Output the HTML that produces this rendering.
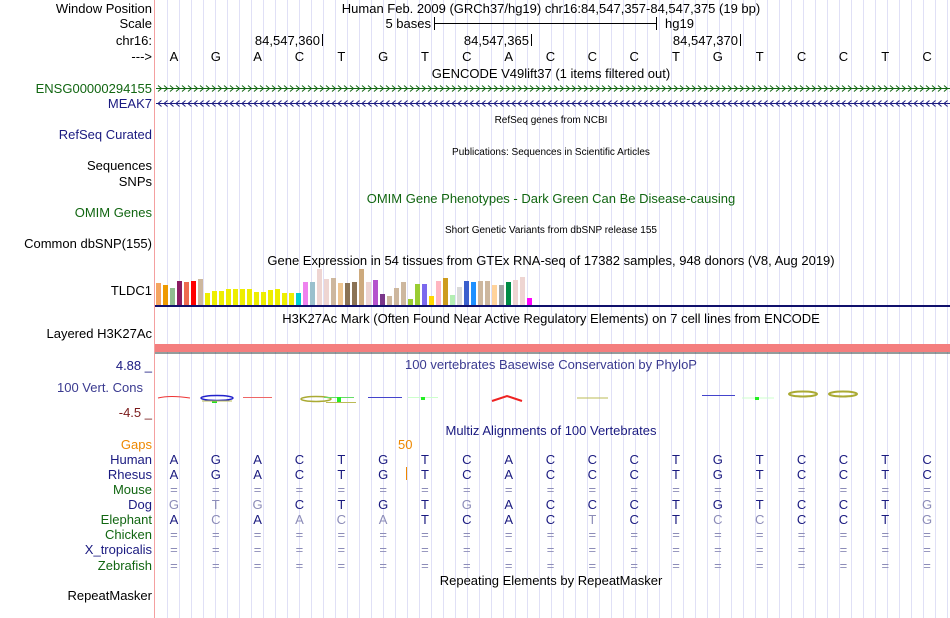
<!DOCTYPE html>
<html><head><meta charset="utf-8"><style>
html,body{margin:0;padding:0;background:#fff;width:950px;height:618px;overflow:hidden}
svg{display:block;font-family:"Liberation Sans",sans-serif}
</style></head><body>
<svg id="ucsc" width="950" height="618">
<g id="grid"></g>
<line x1="154.5" y1="0" x2="154.5" y2="618" stroke="#f4a0a0"/>
<g font-size="13" fill="#000" text-anchor="end">
<text x="152" y="13">Window Position</text>
<text x="152" y="28">Scale</text>
<text x="152" y="45">chr16:</text>
<text x="152" y="61">---&gt;</text>
<text x="152" y="93" fill="#116611">ENSG00000294155</text>
<text x="152" y="108" fill="#1a1a80">MEAK7</text>
<text x="152" y="139" fill="#1a1a80">RefSeq Curated</text>
<text x="152" y="170">Sequences</text>
<text x="152" y="186">SNPs</text>
<text x="152" y="217" fill="#116611">OMIM Genes</text>
<text x="152" y="248">Common dbSNP(155)</text>
<text x="152" y="295">TLDC1</text>
<text x="152" y="338">Layered H3K27Ac</text>
<text x="152" y="370" fill="#1a1a80">4.88 _</text>
<text x="100" y="392" text-anchor="middle" fill="#3a3a90">100 Vert. Cons</text>
<text x="152" y="417" fill="#7a1a1a">-4.5 _</text>
<text x="152" y="449" fill="#ee8800">Gaps</text>
<text x="152" y="464" fill="#1a1a80">Human</text>
<text x="152" y="479" fill="#1a1a80">Rhesus</text>
<text x="152" y="494" fill="#116611">Mouse</text>
<text x="152" y="509" fill="#1a1a80">Dog</text>
<text x="152" y="524" fill="#116611">Elephant</text>
<text x="152" y="539" fill="#116611">Chicken</text>
<text x="152" y="554" fill="#1a1a80">X_tropicalis</text>
<text x="152" y="570" fill="#116611">Zebrafish</text>
<text x="152" y="600">RepeatMasker</text>
</g>
<g font-size="13" text-anchor="middle">
<text x="551" y="13">Human Feb. 2009 (GRCh37/hg19)   chr16:84,547,357-84,547,375 (19 bp)</text>
<text x="551" y="78">GENCODE V49lift37 (1 items filtered out)</text>
<text x="551" y="123" font-size="10">RefSeq genes from NCBI</text>
<text x="551" y="155" font-size="10">Publications: Sequences in Scientific Articles</text>
<text x="551" y="203" fill="#116611">OMIM Gene Phenotypes - Dark Green Can Be Disease-causing</text>
<text x="551" y="233" font-size="10">Short Genetic Variants from dbSNP release 155</text>
<text x="551" y="265">Gene Expression in 54 tissues from GTEx RNA-seq of 17382 samples, 948 donors (V8, Aug 2019)</text>
<text x="551" y="323">H3K27Ac Mark (Often Found Near Active Regulatory Elements) on 7 cell lines from ENCODE</text>
<text x="551" y="369" fill="#3a3a90">100 vertebrates Basewise Conservation by PhyloP</text>
<text x="551" y="435" fill="#1a1a80">Multiz Alignments of 100 Vertebrates</text>
<text x="551" y="585">Repeating Elements by RepeatMasker</text>
</g>
<g font-size="13">
<text x="431" y="28" text-anchor="end">5 bases</text>
<line x1="434" y1="23.5" x2="656" y2="23.5" stroke="#000"/>
<line x1="434.5" y1="17" x2="434.5" y2="30" stroke="#000"/>
<line x1="656.5" y1="17" x2="656.5" y2="30" stroke="#000"/>
<text x="665" y="28">hg19</text>
</g>
<g font-size="13" text-anchor="end">
<text x="320" y="45">84,547,360</text><line x1="322.5" y1="34" x2="322.5" y2="46" stroke="#000"/>
<text x="529" y="45">84,547,365</text><line x1="531.5" y1="34" x2="531.5" y2="46" stroke="#000"/>
<text x="738" y="45">84,547,370</text><line x1="740.5" y1="34" x2="740.5" y2="46" stroke="#000"/>
</g>
<g id="bases" font-size="13" text-anchor="middle"></g>
<defs>
<pattern id="fw" width="6" height="8" patternUnits="userSpaceOnUse" x="157" y="84.5"><path d="M1 1 L4.5 4 L1 7" fill="none" stroke="#116611"/></pattern>
<pattern id="rv" width="6" height="8" patternUnits="userSpaceOnUse" x="157" y="99.5"><path d="M4.5 1 L1 4 L4.5 7" fill="none" stroke="#1a1a80"/></pattern>
</defs>
<g><line x1="156" y1="88.5" x2="950" y2="88.5" stroke="#116611"/><rect x="156" y="84" width="794" height="9" fill="url(#fw)"/></g>
<g><line x1="156" y1="103.5" x2="950" y2="103.5" stroke="#1a1a80"/><rect x="156" y="99" width="794" height="9" fill="url(#rv)"/></g>
<g id="gtex"></g>
<line x1="155" y1="306" x2="950" y2="306" stroke="#10106b" stroke-width="2"/>
<rect x="155" y="344" width="795" height="8" fill="#f47e7e"/>
<line x1="155" y1="353" x2="950" y2="353" stroke="#2a3a3a"/>
<g>
<path d="M158 398 Q170 395 190 398" stroke="#e33" fill="none"/>
<ellipse cx="217" cy="398" rx="16" ry="2.5" fill="none" stroke="#22c" stroke-width="1.5"/><rect x="212" y="401" width="5" height="2" fill="#2d2"/><line x1="202" y1="401" x2="232" y2="401" stroke="#bb5"/>
<line x1="243" y1="397.5" x2="272" y2="397.5" stroke="#e66"/>
<ellipse cx="316" cy="399" rx="15" ry="2.5" fill="none" stroke="#aa3" stroke-width="1.5"/>
<line x1="324" y1="397.5" x2="354" y2="397.5" stroke="#6d6"/><rect x="337" y="397" width="4" height="6" fill="#2e2"/><line x1="326" y1="402.5" x2="356" y2="402.5" stroke="#bb5"/>
<line x1="368" y1="397.5" x2="402" y2="397.5" stroke="#44c"/>
<line x1="408" y1="397.5" x2="438" y2="397.5" stroke="#cfc"/><rect x="421" y="397" width="4" height="3" fill="#2e2"/>
<path d="M492 401 L507 396 L522 401" stroke="#e22" stroke-width="2" fill="none"/>
<line x1="577" y1="398" x2="608" y2="398" stroke="#bb5"/>
<line x1="702" y1="395.5" x2="735" y2="395.5" stroke="#44c"/>
<line x1="742" y1="398" x2="774" y2="398" stroke="#cfc"/><rect x="755" y="397" width="4" height="3" fill="#2e2"/>
<ellipse cx="803" cy="394" rx="14" ry="2.5" fill="none" stroke="#aa3" stroke-width="2"/>
<ellipse cx="843" cy="394" rx="14" ry="2.5" fill="none" stroke="#aa3" stroke-width="2"/>
</g>
<text x="398" y="449" font-size="13" fill="#ee8800">50</text>
<line x1="406.5" y1="467" x2="406.5" y2="480" stroke="#ee8800"/>
<g id="align" font-size="13" text-anchor="middle"></g>
<script>
const NS="http://www.w3.org/2000/svg";
const refBases="AGACTGTCACCCTGTCCTC".split("");
const dogBases="GTGCTGTGACCCTGTCCTG".split("");
const dogLight=[1,1,1,0,0,0,0,1,0,0,0,0,0,0,0,0,0,0,1];
const eleBases="ACAACATCACTCTCCCCTG".split("");
const eleLight=[0,1,0,1,1,1,0,0,0,0,1,0,0,1,1,0,0,0,1];
const gtexValues=[22,20,17,24,23,24,26,12,14,14,16,16,16,16,13,13,15,16,12,12,12,23,23,36,26,27,22,22,23,36,23,25,11,9,17,23,6,21,21,9,24,27,10,18,24,23,24,24,20,20,23,25,28,7];
const gtexColors=["#f4a460","#ee9a00","#8fbc8f","#8b1c62","#ee6a50","#ff0000","#cdb79e","#eeee00","#eeee00","#eeee00","#eeee00","#eeee00","#eeee00","#eeee00","#eeee00","#eeee00","#eeee00","#eeee00","#eeee00","#eeee00","#00ced1","#ee82ee","#9ac0cd","#eed5d2","#eed5d2","#cdb79e","#eec591","#8b7355","#8b7355","#cdaa7d","#eed5d2","#b452cd","#7a378b","#cdb79e","#cdb79e","#cdb79e","#9acd32","#9acd32","#7b68ee","#ffd700","#ffb6c1","#cd9b1d","#b4eeb4","#d9d9d9","#3a5fcd","#1e90ff","#cdb79e","#cdb79e","#ffd39b","#a6a6a6","#008b45","#eed5d2","#eed5d2","#ff00ff"];
const ox=155, bw=795/19;
const bx=i=>ox+bw*(i+0.5)-2;
const grid=document.getElementById("grid");
for(let x=167;x<950;x+=12){const l=document.createElementNS(NS,"line");
l.setAttribute("x1",x+.5);l.setAttribute("x2",x+.5);l.setAttribute("y1",0);l.setAttribute("y2",618);l.setAttribute("stroke","#e0e0f6");


grid.appendChild(l);}
function txt(g,x,y,s,fill){const t=document.createElementNS(NS,"text");t.setAttribute("x",x);t.setAttribute("y",y);t.setAttribute("fill",fill);t.textContent=s;g.appendChild(t);return t;}
const bg=document.getElementById("bases");
refBases.forEach((b,i)=>{const t=txt(bg,bx(i),61,b,"#000");

});
const al=document.getElementById("align");
const navy="#1a1a80",light="#8c8cb8";
refBases.forEach((b,i)=>{
 let t=txt(al,bx(i),464,b,navy);
 
 
 t=txt(al,bx(i),479,b,navy);
 
 
 t=txt(al,bx(i),509,dogBases[i],dogLight[i]?light:navy);
 
 
 t=txt(al,bx(i),524,eleBases[i],eleLight[i]?light:navy);
 
 
 [494,539,554,570].forEach(y=>{const e=txt(al,bx(i),y,"=",light);
 
 });
});
const gt=document.getElementById("gtex");
const base=305,step=7;
gtexValues.forEach((v,i)=>{const r=document.createElementNS(NS,"rect");
r.setAttribute("x",156+i*step);r.setAttribute("y",base-v);r.setAttribute("width",5);r.setAttribute("height",v);r.setAttribute("fill",gtexColors[i]);


gt.appendChild(r);});
</script>
</svg>
</body></html>
